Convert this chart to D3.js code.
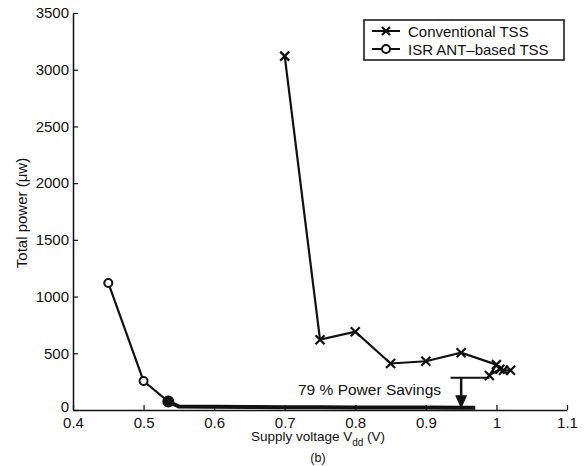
<!DOCTYPE html>
<html>
<head>
<meta charset="utf-8">
<script src="https://cdn.jsdelivr.net/npm/d3@7"></script>
<style>
  body { margin: 0; background: #fff; }
  svg text { font-family: "Liberation Sans", Arial, sans-serif; fill: #111; }
</style>
</head>
<body>
<svg id="chart" width="588" height="466"></svg>
<script>
// values
var convV = [0.70, 0.75, 0.80, 0.85, 0.90, 0.95, 1.00, 0.99, 1.005, 1.01, 1.02];
var convP = [3120, 620, 690, 410, 430, 505, 400, 305, 360, 350, 350];

var isrV = [0.45, 0.50, 0.535];
var isrP = [1120, 255, 75];

// low-power tail of the ISR curve (drawn as a heavy line)
var tailV = [0.535, 0.55, 0.60, 0.65, 0.70, 0.75, 0.80, 0.85, 0.90, 0.95, 0.97];
var tailP = [75, 30, 28, 26, 25, 24, 23, 22, 21, 20, 20];

var xTicks = [0.4, 0.5, 0.6, 0.7, 0.8, 0.9, 1, 1.1];
var yTicks = [0, 500, 1000, 1500, 2000, 2500, 3000, 3500];

var svg = d3.select("#chart");
var padL = 73, padR = 567, padT = 13, padB = 410;

var x = d3.scaleLinear().domain([0.4, 1.1]).range([padL, padR]);
var y = d3.scaleLinear().domain([0, 3500]).range([padB, padT]);

// axes, matlab style: ticks inside
var xAxis = d3.axisBottom(x).tickValues(xTicks).tickSize(-5).tickSizeOuter(0).tickPadding(7)
    .tickFormat(function(d){ return d === 1 ? "1" : d3.format(".1f")(d); });
var yAxis = d3.axisLeft(y).tickValues(yTicks).tickSize(-5).tickSizeOuter(0).tickPadding(4)
    .tickFormat(d3.format("d"));

var gx = svg.append("g").attr("transform", "translate(0," + padB + ")").call(xAxis);
var gy = svg.append("g").attr("transform", "translate(" + padL + ",0)").call(yAxis);
[gx, gy].forEach(function(g){
  g.select(".domain").attr("stroke", "#111").attr("stroke-width", 1.5);
  g.selectAll(".tick line").attr("stroke", "#111").attr("stroke-width", 1.2);
  g.selectAll(".tick text").attr("font-size", 15).attr("fill", "#111")
    .attr("font-family", "Liberation Sans, Arial, sans-serif");
});
// the zero label sits a touch higher, clear of 0.4
gy.selectAll(".tick text").filter(function(d){ return d === 0; }).attr("dy", "0.1em");

var line = d3.line().x(function(d){ return x(d[0]); }).y(function(d){ return y(d[1]); });
var conv = d3.zip(convV, convP);
var isr = d3.zip(isrV, isrP);
var tail = d3.zip(tailV, tailP);

svg.append("path").datum(tail).attr("d", line)
  .attr("fill", "none").attr("stroke", "#111").attr("stroke-width", 4);

svg.append("path").datum(conv).attr("d", line)
  .attr("fill", "none").attr("stroke", "#111").attr("stroke-width", 2.2);
svg.append("path").datum(isr).attr("d", line)
  .attr("fill", "none").attr("stroke", "#111").attr("stroke-width", 2.2);

function cross(g, cx, cy, s) {
  g.append("path")
    .attr("d", "M" + (cx - s) + "," + (cy - s) + "L" + (cx + s) + "," + (cy + s) +
               "M" + (cx - s) + "," + (cy + s) + "L" + (cx + s) + "," + (cy - s))
    .attr("stroke", "#111").attr("stroke-width", 2.2).attr("fill", "none");
}

var marks = svg.append("g");
conv.forEach(function(d){ cross(marks, x(d[0]), y(d[1]), 4.5); });
isr.forEach(function(d, i){
  marks.append("circle").attr("cx", x(d[0])).attr("cy", y(d[1]))
    .attr("r", i === 2 ? 5 : 4)
    .attr("fill", i === 2 ? "#111" : "#fff")
    .attr("stroke", "#111").attr("stroke-width", 2);
});

// annotation
var ann = svg.append("g");
ann.append("line").attr("x1", x(0.935)).attr("x2", x(0.99))
  .attr("y1", y(285)).attr("y2", y(285)).attr("stroke", "#111").attr("stroke-width", 2);
ann.append("line").attr("x1", x(0.95)).attr("x2", x(0.95))
  .attr("y1", y(285)).attr("y2", y(110)).attr("stroke", "#111").attr("stroke-width", 2.5);
ann.append("path")
  .attr("d", "M" + (x(0.95) - 6) + "," + y(130) + "L" + (x(0.95) + 6) + "," + y(130) +
             "L" + x(0.95) + "," + y(10) + "Z")
  .attr("fill", "#111");
ann.append("text").attr("x", 298).attr("y", 395).attr("font-size", 15.5)
  .text("79 % Power Savings");

// legend
var lg = svg.append("g").attr("transform", "translate(364,20)");
lg.append("rect").attr("width", 200).attr("height", 40)
  .attr("fill", "#fff").attr("stroke", "#111").attr("stroke-width", 1.5);
lg.append("line").attr("x1", 8).attr("x2", 36).attr("y1", 11).attr("y2", 11)
  .attr("stroke", "#111").attr("stroke-width", 2);
cross(lg, 22, 11, 4);
lg.append("line").attr("x1", 8).attr("x2", 36).attr("y1", 29).attr("y2", 29)
  .attr("stroke", "#111").attr("stroke-width", 2);
lg.append("circle").attr("cx", 22).attr("cy", 29).attr("r", 4)
  .attr("fill", "#fff").attr("stroke", "#111").attr("stroke-width", 2);
lg.append("text").attr("x", 44).attr("y", 16.5).attr("font-size", 15).text("Conventional TSS");
lg.append("text").attr("x", 44).attr("y", 35).attr("font-size", 15).text("ISR ANT\u2013based TSS");

// axis titles
var xl = svg.append("text").attr("x", 318).attr("y", 441).attr("text-anchor", "middle")
  .attr("font-size", 13.5);
xl.append("tspan").text("Supply voltage V");
xl.append("tspan").attr("dy", 5).attr("font-size", 10).text("dd");
xl.append("tspan").attr("dy", -5).text(" (V)");

svg.append("text").attr("x", 318).attr("y", 462).attr("text-anchor", "middle")
  .attr("font-size", 12.5).text("(b)");

svg.append("text").attr("transform", "translate(27,213) rotate(-90)")
  .attr("text-anchor", "middle").attr("font-size", 15).text("Total power (\u03bcw)");
</script>
</body>
</html>
